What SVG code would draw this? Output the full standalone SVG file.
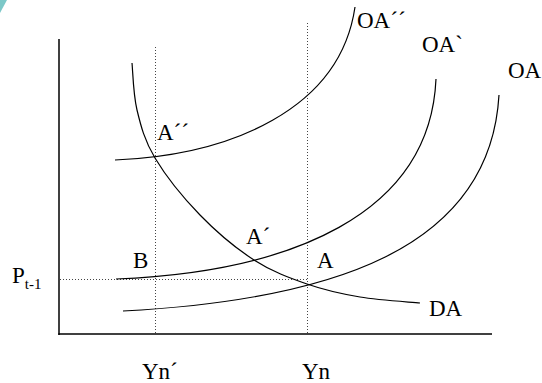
<svg xmlns="http://www.w3.org/2000/svg" width="542" height="383" viewBox="0 0 542 383">
<style>
.ax{stroke:#000;stroke-width:1.5;fill:none}
.cv{stroke:#000;stroke-width:1.2;fill:none}
.dt{stroke:#444;stroke-width:1;stroke-dasharray:1 2;fill:none}
text{font-family:"Liberation Serif","Times New Roman",serif;font-size:23px;fill:#000}
.sub{font-size:15px}
</style>
<rect width="542" height="383" fill="#fff"/>
<polygon points="0,0 7,0 0,13" fill="#7cc8c8"/>
<g id="axes">
<line class="ax" x1="59" y1="39" x2="59" y2="335"/>
<line class="ax" x1="58.3" y1="334" x2="492" y2="334"/>
</g>
<g id="guides">
<line class="dt" x1="60" y1="279.5" x2="307" y2="279.5"/>
<line class="dt" x1="155.5" y1="47" x2="155.5" y2="333"/>
<line class="dt" x1="307.5" y1="23" x2="307.5" y2="333"/>
</g>
<g id="curves">
<path id="DA" class="cv" d="M132,63 C132.8,70.8 133.2,94.2 137,110 C140.8,125.8 144.5,140.5 155,158 C165.5,175.5 183.5,198 200,215 C216.5,232 236.2,248.5 254,260 C271.8,271.5 289.3,277.8 307,284 C324.7,290.2 341.2,293.8 360,297 C378.8,300.2 410,302 420,303"/>
<path id="OA" class="cv" d="M123,311 C330,300 490,250 499,95"/>
<path id="OA1" class="cv" d="M116,279 C290,272 430,215 436,79"/>
<path id="OA2" class="cv" d="M115,160 C230,155 340,110 355,7"/>
</g>
<g id="labels">
<text x="357" y="28">OA´´</text>
<text x="422" y="52">OA`</text>
<text x="508" y="78">OA</text>
<text x="157" y="140">A´´</text>
<text x="246" y="244">A´</text>
<text x="317" y="268">A</text>
<text x="133" y="268">B</text>
<text x="429" y="316">DA</text>
<text x="12" y="283">P<tspan class="sub" y="289">t-1</tspan></text>
<text x="142" y="379">Yn´</text>
<text x="302" y="379">Yn</text>
</g>
</svg>
